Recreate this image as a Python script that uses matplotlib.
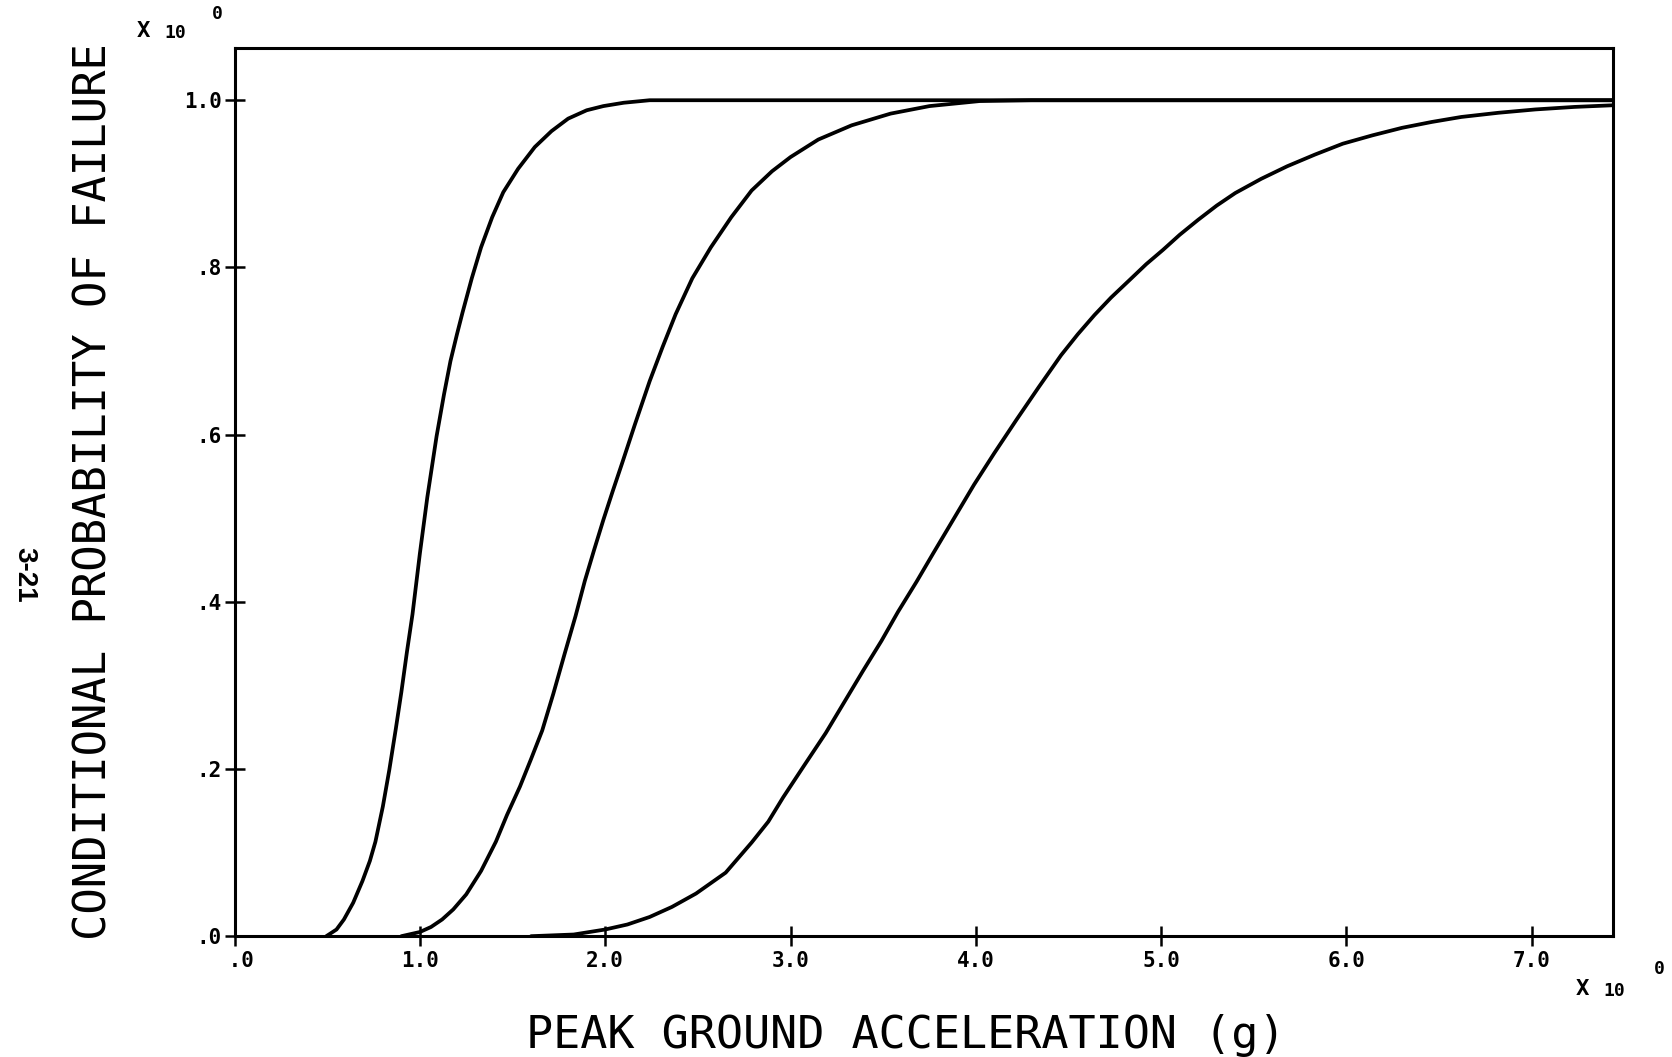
import matplotlib
matplotlib.use("Agg")
import matplotlib.pyplot as plt

# fragility curves: peak ground acceleration (g) vs conditional probability of failure
pga_a = [0.495, 0.55, 0.59, 0.64, 0.69, 0.73, 0.76, 0.80, 0.835, 0.87, 0.90, 0.93, 0.96,
         1.00, 1.04, 1.09, 1.13, 1.165, 1.20, 1.23, 1.28, 1.33, 1.39, 1.45, 1.53, 1.62, 1.71,
         1.80, 1.90, 1.99, 2.10, 2.24, 7.44]
pf_a = [0.0, 0.008, 0.020, 0.040, 0.066, 0.090, 0.113, 0.155, 0.199, 0.248, 0.292, 0.340, 0.385,
        0.458, 0.525, 0.598, 0.648, 0.688, 0.720, 0.746, 0.787, 0.824, 0.860, 0.890, 0.918, 0.944,
        0.963, 0.978, 0.988, 0.993, 0.997, 1.0, 1.0]

pga_b = [0.90, 1.00, 1.06, 1.12, 1.18, 1.25, 1.33, 1.41, 1.47, 1.54, 1.60, 1.66, 1.72, 1.78,
         1.84, 1.89, 1.94, 1.99, 2.04, 2.09, 2.16, 2.24, 2.31, 2.38, 2.47, 2.57, 2.68, 2.79,
         2.90, 3.00, 3.15, 3.33, 3.54, 3.75, 4.02, 4.30, 7.44]
pf_b = [0.0, 0.005, 0.011, 0.020, 0.032, 0.050, 0.078, 0.113, 0.145, 0.179, 0.212, 0.246, 0.290,
        0.337, 0.383, 0.425, 0.462, 0.498, 0.532, 0.565, 0.612, 0.664, 0.705, 0.744, 0.787, 0.824,
        0.860, 0.892, 0.915, 0.932, 0.953, 0.970, 0.984, 0.993, 0.999, 1.0, 1.0]

pga_c = [1.60, 1.83, 2.00, 2.12, 2.24, 2.36, 2.49, 2.65, 2.79, 2.88, 2.96, 3.07, 3.19, 3.29,
         3.39, 3.49, 3.58, 3.68, 3.77, 3.88, 3.99, 4.10, 4.22, 4.34, 4.46, 4.55, 4.64, 4.73,
         4.83, 4.92, 5.01, 5.10, 5.20, 5.30, 5.40, 5.54, 5.68, 5.83, 5.98, 6.14, 6.30, 6.46,
         6.62, 6.82, 7.02, 7.23, 7.44]
pf_c = [0.0, 0.002, 0.008, 0.014, 0.023, 0.035, 0.051, 0.076, 0.112, 0.137, 0.166, 0.203, 0.243,
        0.280, 0.317, 0.353, 0.388, 0.424, 0.458, 0.499, 0.540, 0.578, 0.618, 0.657, 0.695, 0.720,
        0.743, 0.764, 0.785, 0.804, 0.821, 0.839, 0.857, 0.874, 0.889, 0.906, 0.921, 0.935, 0.948,
        0.958, 0.967, 0.974, 0.980, 0.985, 0.989, 0.992, 0.994]

xticks = [0, 1, 2, 3, 4, 5, 6, 7]
xticklabels = [' .0', '1.0', '2.0', '3.0', '4.0', '5.0', '6.0', '7.0']
yticks = [0, 0.2, 0.4, 0.6, 0.8, 1.0]
yticklabels = ['.0', '.2', '.4', '.6', '.8', '1.0']

mono = 'DejaVu Sans Mono'

fig = plt.figure(figsize=(16.72, 10.57), dpi=100)
ax = fig.add_axes([0.1403, 0.1143, 0.8246, 0.8403])

for x, y in [(pga_a, pf_a), (pga_b, pf_b), (pga_c, pf_c)]:
    ax.plot(x, y, color='black', lw=2.7, solid_capstyle='round', solid_joinstyle='round')

ax.set_xlim(0, 7.44)
ax.set_ylim(0, 1.0625)
for s in ax.spines.values():
    s.set_linewidth(2.2)

ax.set_xticks(xticks)
ax.set_xticklabels(xticklabels, family=mono, weight='bold', fontsize=15)
ax.set_yticks(yticks)
ax.set_yticklabels(yticklabels, family=mono, weight='bold', fontsize=15)
ax.tick_params(direction='inout', length=14, width=1.8, pad=4)
ax.tick_params(axis='y', pad=2)

# axis titles in plotter style
fig.text(0.542, 0.0085, 'PEAK GROUND ACCELERATION (g)', family=mono, fontsize=32.5,
         ha='center', va='baseline')
fig.text(0.0565, 0.535, 'CONDITIONAL PROBABILITY OF FAILURE', family=mono, fontsize=31.6,
         rotation=90, ha='center', va='center')

# scale multipliers
fig.text(0.0815, 0.971, 'X', family=mono, weight='bold', fontsize=16, ha='left', va='center')
fig.text(0.0985, 0.969, '10', family=mono, weight='bold', fontsize=13, ha='left', va='center')
fig.text(0.1300, 0.987, '0', family=mono, weight='bold', fontsize=13, ha='center', va='center')
fig.text(0.9425, 0.0640, 'X', family=mono, weight='bold', fontsize=16, ha='left', va='center')
fig.text(0.9590, 0.0625, '10', family=mono, weight='bold', fontsize=13, ha='left', va='center')
fig.text(0.9925, 0.0830, '0', family=mono, weight='bold', fontsize=13, ha='center', va='center')

# page number
fig.text(0.0145, 0.456, '3-21', family='Liberation Sans', weight='bold', fontsize=20,
         rotation=-90, ha='center', va='center')

fig.savefig('out.png', dpi=100, facecolor='white')
